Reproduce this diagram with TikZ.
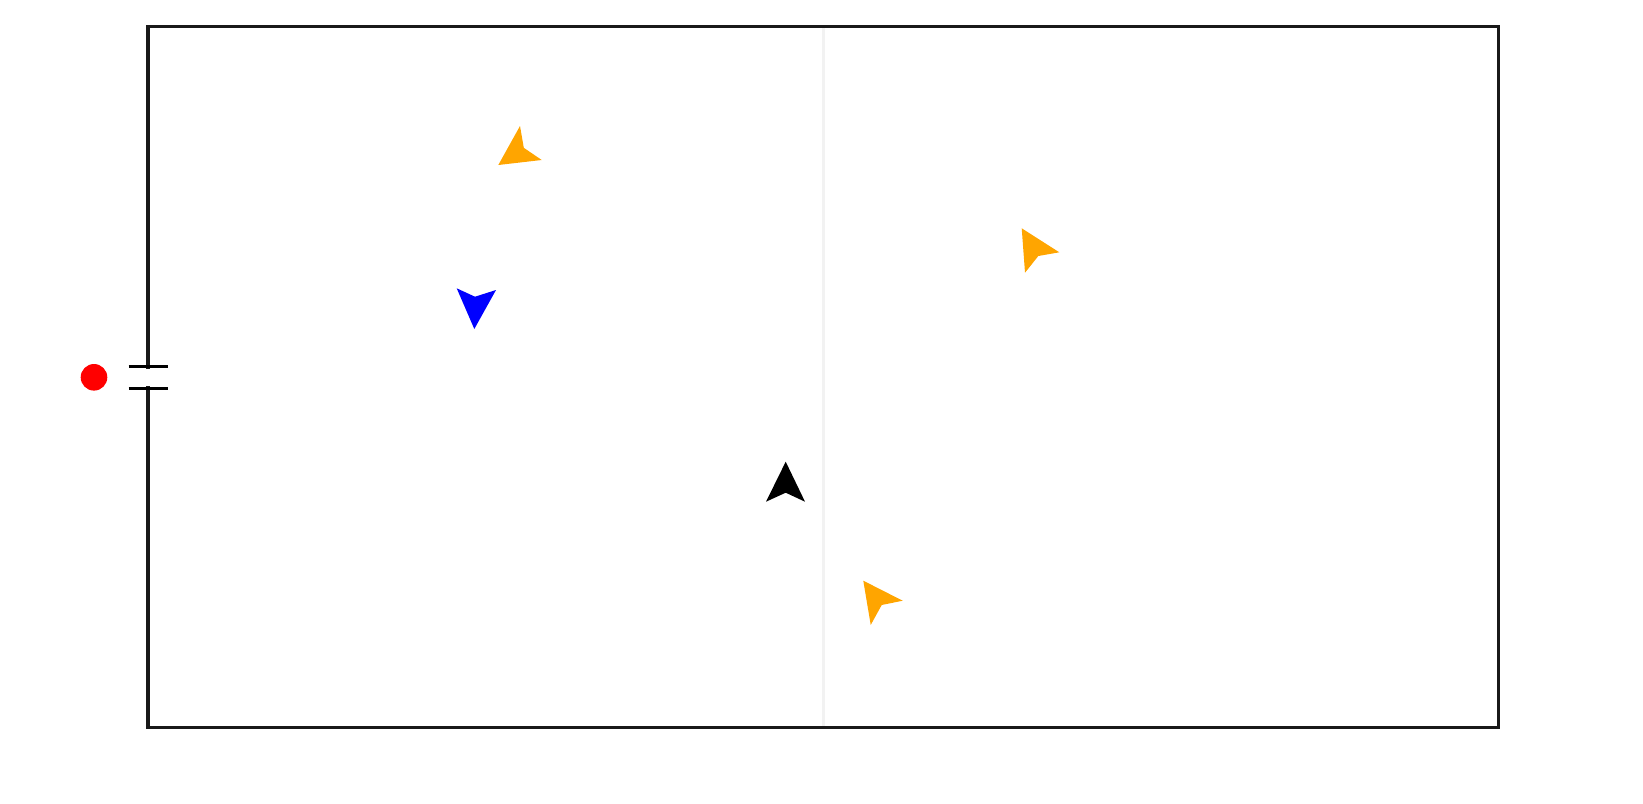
\documentclass[tikz,border=0pt]{standalone}
\usepackage{tikz}
\usetikzlibrary{positioning}
\definecolor{agentorange}{HTML}{FFA500}
\definecolor{agentblue}{HTML}{0000FF}
\definecolor{exitred}{HTML}{FF0000}
\begin{document}
\begin{tikzpicture}[
    x=0.01cm, y=-0.01cm,
    wall/.style={draw=black!90, line width=1.05pt, line cap=rect},
    door/.style={draw=black, line width=0.95pt},
    divider/.style={draw=black!5, line width=0.6pt},
    agent/.style={line width=0pt},
]
  \useasboundingbox (0,0) rectangle (1643,803);

  % room walls, opening on the left side
  \coordinate (gaptop) at (148,366.7);
  \coordinate (gapbot) at (148,388.2);
  \draw[divider] (823.5,28) -- (823.5,726);
  \draw[wall] (gaptop) -- (148,26.5) -- (1498.5,26.5) -- (1498.5,727.5) -- (148,727.5) -- (gapbot);
  \draw[door] (128.5,366.7) -- (167.5,366.7);
  \draw[door] (128.5,388.2) -- (167.5,388.2);

  % exit marker
  \fill[exitred] (94,377.3) circle (13.3);

  % agents (tip, back, notch, back)
  \fill[agent, agentorange] (498.3,165) -- (541.7,160) -- (523.8,147.8) -- (520,126) -- cycle;
  \fill[agent, agentblue] (474.3,329) -- (456.7,288.3) -- (475,296.7) -- (496,290) -- cycle;
  \fill[agent, black] (785.7,461.7) -- (805,501.7) -- (785.7,492.7) -- (766,501.7) -- cycle;
  \fill[agent, agentorange] (1021.7,228.3) -- (1059.3,252.3) -- (1038.3,256) -- (1025,272.7) -- cycle;
  \fill[agent, agentorange] (863.3,580.7) -- (902.7,600.7) -- (881.7,605) -- (870.7,625) -- cycle;
\end{tikzpicture}
\end{document}
